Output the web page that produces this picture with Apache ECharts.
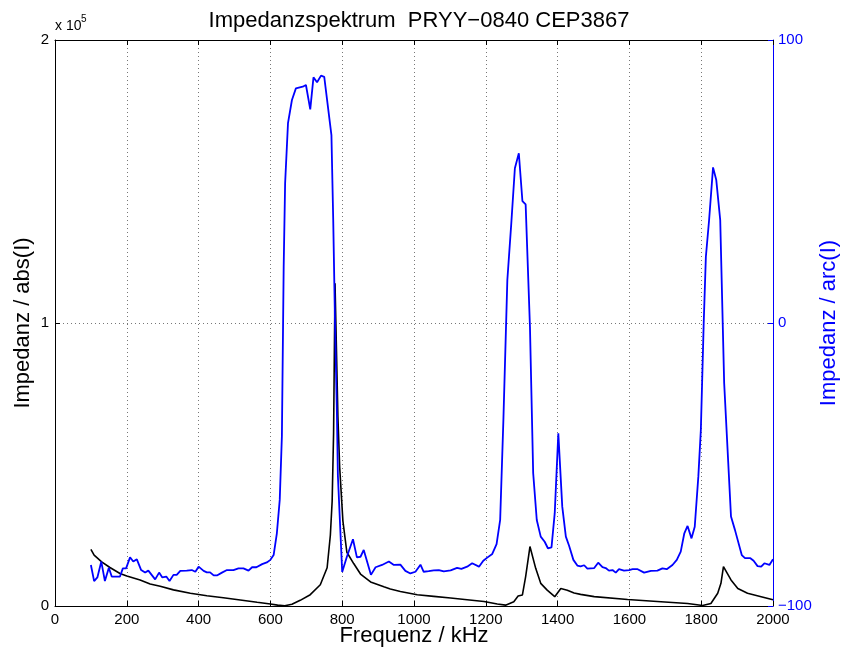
<!DOCTYPE html>
<html><head><meta charset="utf-8">
<script src="https://cdn.jsdelivr.net/npm/echarts@6/dist/echarts.min.js"></script>
<style>html,body{margin:0;padding:0;background:#fff}#c{width:842px;height:655px}</style>
</head><body><div id="c"></div>
<script>
// Phase (blue, right axis) – frequency in kHz, value in degrees
var phaseFreq = [100,109,118,129,139,150,158,181,189,198,209,218,228,240,251,260,279,290,299,310,319,330,339,349,367,381,391,400,414,423,432,442,451,465,479,497,511,525,539,549,561,577,590,600,609,618,626,632,637,641,649,660,671,690,699,711,720,730,741,750,770,775,780,785,788,800,813,830,841,851,860,880,893,911,930,944,962,976,990,1004,1018,1027,1041,1055,1069,1083,1102,1120,1132,1148,1162,1181,1193,1204,1218,1230,1240,1249,1260,1271,1281,1292,1302,1311,1323,1332,1342,1353,1364,1373,1383,1392,1402,1413,1423,1432,1444,1455,1464,1474,1483,1492,1502,1513,1525,1534,1543,1553,1562,1571,1585,1599,1609,1623,1641,1660,1678,1692,1704,1720,1732,1743,1753,1762,1773,1782,1792,1799,1807,1813,1822,1833,1842,1853,1864,1883,1894,1913,1922,1937,1946,1957,1967,1976,1990,2000];
var phaseVal = [-85.5,-91.2,-89.9,-84.3,-91.2,-86.5,-89.6,-89.6,-86.7,-86.7,-82.8,-84.3,-83.5,-87.3,-88.2,-87.5,-90.6,-88.2,-89.9,-89.6,-91.2,-89.0,-89.0,-87.6,-87.5,-87.3,-87.9,-86.1,-87.6,-88.1,-88.1,-89.2,-89.2,-88.2,-87.3,-87.3,-86.7,-86.7,-87.5,-86.3,-86.3,-85.2,-84.6,-83.7,-82.0,-74.3,-62.5,-40,20,49.4,70.6,78.8,82.9,83.5,84.1,75.5,86.8,85.1,87.4,87.0,66.4,36.4,0,-30,-54,-88,-82.6,-76.4,-82.8,-82.6,-80.2,-89,-86.3,-85.5,-84.3,-85.5,-85.4,-87.6,-88.5,-87.9,-85.4,-87.9,-87.7,-87.4,-87.3,-87.8,-87.4,-86.5,-86.9,-86.1,-84.9,-86.1,-84.0,-82.9,-81.6,-78.1,-69.6,-34.3,15.2,35.2,54.7,60.0,43.1,41.9,-1.3,-53.1,-69.6,-75.5,-77.3,-79.6,-79.3,-67.2,-39.0,-64.9,-75.5,-78.7,-83.7,-85.7,-86.0,-85.6,-86.8,-86.7,-86.6,-84.7,-86.3,-86.6,-87.5,-87.3,-88.2,-87.0,-87.5,-87.3,-87.0,-87.0,-88.2,-87.6,-87.5,-86.7,-87.0,-85.5,-83.7,-80.8,-74.3,-71.7,-76.1,-72.0,-54.3,-37.8,0,23.4,36.4,55.0,50.5,36.4,-21.3,-68.4,-73.1,-82.0,-83.1,-83.1,-84.0,-85.9,-86.1,-84.9,-85.5,-83.5];
// Magnitude (black, left axis)
var absFreq = [100,109,130,153,181,200,237,265,293,330,377,423,469,516,563,600,620,640,660,683,711,739,758,767,772,776,780,788,793,802,813,832,851,879,916,934,962,1009,1055,1102,1148,1195,1232,1255,1278,1290,1302,1311,1323,1339,1353,1371,1392,1409,1427,1446,1464,1502,1595,1688,1762,1804,1827,1846,1855,1862,1883,1902,1929,1967,2000];
var absVal = [20000,18000,15600,13600,11500,10600,9200,7800,7000,5700,4500,3600,2900,2100,1300,700,300,100,600,2000,4000,7500,13500,25000,37000,61000,114000,67000,49000,30000,19000,15000,11300,8500,6800,6000,5100,4000,3400,2800,2200,1600,700,300,1500,3500,3900,10400,21000,13300,8000,5600,3300,6200,5600,4600,4100,3300,2300,1500,900,150,900,4500,8000,13900,9200,6200,4500,3300,2200];
var xTicks = {min:0, max:2000, interval:200};
var leftTicks = {min:0, max:200000, interval:100000};
var rightTicks = {min:-100, max:100, interval:100};
var titleText = 'Impedanzspektrum  PRYY\u22120840 CEP3867';

function pairs(f, v){ return f.map(function(x,i){ return [x, v[i]]; }); }
var FONT = '"Liberation Sans", Arial, Helvetica, sans-serif';
var dotted = {show:true, lineStyle:{color:'#777', type:[1,3], width:1}};
var chart = echarts.init(document.getElementById('c'), null, {renderer:'canvas'});
chart.setOption({
  animation:false,
  backgroundColor:'#fff',
  textStyle:{fontFamily:FONT},
  title:{text:titleText, left:414, textAlign:'center', top:5, textStyle:{fontSize:22, fontWeight:'normal', color:'#000', fontFamily:FONT}},
  grid:{left:55, right:69, top:40, bottom:49, containLabel:false, outerBoundsMode:'none'},
  xAxis:[{
    type:'value', min:xTicks.min, max:xTicks.max, interval:xTicks.interval, position:'bottom',
    name:'Frequenz / kHz', nameLocation:'middle', nameGap:19, nameMoveOverlap:false,
    nameTextStyle:{fontSize:22, color:'#000', fontFamily:FONT},
    axisLine:{show:true, onZero:false, lineStyle:{color:'#000', width:1}},
    axisTick:{show:true, inside:true, length:5, lineStyle:{color:'#000'}},
    axisLabel:{fontSize:15, color:'#000', margin:6, fontFamily:FONT, formatter:function(v){return String(v);}},
    splitLine:dotted
  },{
    type:'value', min:xTicks.min, max:xTicks.max, interval:xTicks.interval, position:'top',
    axisLine:{show:true, onZero:false, lineStyle:{color:'#000', width:1}},
    axisTick:{show:true, inside:true, length:5, lineStyle:{color:'#000'}},
    axisLabel:{show:false}, splitLine:{show:false}
  }],
  yAxis:[{
    type:'value', min:leftTicks.min, max:leftTicks.max, interval:leftTicks.interval, position:'left',
    name:'Impedanz / abs(I)', nameLocation:'middle', nameGap:21, nameMoveOverlap:false,
    nameTextStyle:{fontSize:22, color:'#000', fontFamily:FONT},
    axisLine:{show:true, onZero:false, lineStyle:{color:'#000', width:1}},
    axisTick:{show:true, inside:true, length:5, lineStyle:{color:'#000'}},
    axisLabel:{fontSize:15, color:'#000', margin:6, fontFamily:FONT, formatter:function(v){return String(v/100000);}},
    splitLine:dotted
  },{
    type:'value', min:rightTicks.min, max:rightTicks.max, interval:rightTicks.interval, position:'right',
    name:'Impedanz / arc(I)', nameLocation:'middle', nameGap:45, nameMoveOverlap:false,
    nameTextStyle:{fontSize:22, color:'#0000ff', fontFamily:FONT},
    axisLine:{show:true, onZero:false, lineStyle:{color:'#0000ff', width:1}},
    axisTick:{show:true, inside:true, length:5, lineStyle:{color:'#0000ff'}},
    axisLabel:{fontSize:15, color:'#0000ff', margin:5, fontFamily:FONT, formatter:function(v){return String(v).replace('-','\u2212');}},
    splitLine:{show:false}
  }],
  graphic:[{
    type:'text', left:55, top:19,
    style:{text:'x 10', fontSize:14, fill:'#000', fontFamily:FONT}
  },{
    type:'text', left:81, top:14,
    style:{text:'5', fontSize:10, fill:'#000', fontFamily:FONT}
  }],
  series:[{
    type:'line', xAxisIndex:0, yAxisIndex:0, data:pairs(absFreq, absVal),
    showSymbol:false, lineStyle:{color:'#000', width:1.6}, itemStyle:{color:'#000'}, z:2
  },{
    type:'line', xAxisIndex:0, yAxisIndex:1, data:pairs(phaseFreq, phaseVal),
    showSymbol:false, lineStyle:{color:'#0000ff', width:1.8}, itemStyle:{color:'#0000ff'}, z:3
  }]
});
</script></body></html>
